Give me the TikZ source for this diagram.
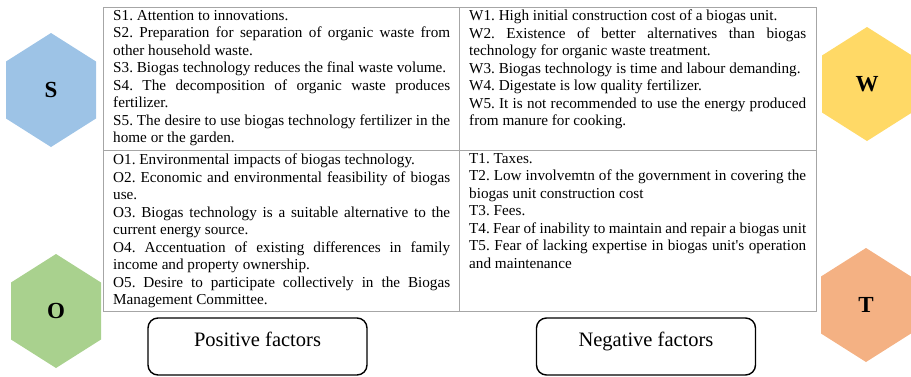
\documentclass[tikz,border=0pt]{standalone}
\usepackage{fontspec}
\setmainfont{Liberation Serif}
\usetikzlibrary{positioning}
\definecolor{hexS}{HTML}{9DC3E6}
\definecolor{hexW}{HTML}{FFD966}
\definecolor{hexO}{HTML}{A9D18E}
\definecolor{hexT}{HTML}{F4B183}
\setlength{\parindent}{0pt}
\hyphenpenalty=10000
\exhyphenpenalty=10000
\frenchspacing

\begin{document}
\begin{tikzpicture}[
    x=1pt, y=-1pt,
    hexa/.style={font=\bfseries\fontsize{23}{25}\selectfont},
    cell/.style={anchor=north west, inner sep=0pt, text width=337pt, align=justify, font=\fontsize{15.2}{17.5}\selectfont},
    factor/.style={draw, line width=1.4pt, rounded corners=10pt, minimum width=219pt, minimum height=57pt, text height=12pt, text depth=12pt, font=\fontsize{20.5}{24}\selectfont},
    grid/.style={draw=gray!70, line width=0.8pt}
]
\useasboundingbox (0,0) rectangle (911,376);

% hexagons
\foreach \n/\x/\y/\c in {S/51/90/hexS, W/867/84/hexW, O/56/311/hexO, T/866/305/hexT}{
    \fill[\c] (\x,\y) ++(0,-57) -- ++(45,28.5) -- ++(0,57) -- ++(-45,28.5) -- ++(-45,-28.5) -- ++(0,-57) -- cycle;
    \node[hexa] (\n) at (\x,\y) {\n};
}

% table
\draw[grid] (103,7) rectangle (816,311);
\draw[grid] (459,7) -- (459,311);
\draw[grid] (103,150) -- (816,150);

\node[cell] (strengths) at (113,10) {S1. Attention to innovations.\par
S2. Preparation for separation of organic waste from other household waste.\par
S3. Biogas technology reduces the final waste volume.\par
S4. The decomposition of organic waste produces fertilizer.\par
S5. The desire to use biogas technology fertilizer in the home or the garden.};

\node[cell] (weaknesses) at (469,10) {W1. High initial construction cost of a biogas unit.\par
W2. Existence of better alternatives than biogas technology for organic waste treatment.\par
W3. Biogas technology is time and labour demanding.\par
W4. Digestate is low quality fertilizer.\par
W5. It is not recommended to use the energy produced from manure for cooking.};

\node[cell] (opportunities) at (113,154) {O1. Environmental impacts of biogas technology.\par
O2. Economic and environmental feasibility of biogas use.\par
O3. Biogas technology is a suitable alternative to the current energy source.\par
O4. Accentuation of existing differences in family income and property ownership.\par
O5. Desire to participate collectively in the Biogas Management Committee.};

\node[cell] (threats) at (469,153) {T1. Taxes.\par
T2. Low involvemtn of the government in covering the biogas unit construction cost\par
T3. Fees.\par
T4. Fear of inability to maintain and repair a biogas unit\par
T5. Fear of lacking expertise in biogas unit\textquotesingle s operation and maintenance};

% factor boxes
\node[factor] (positive) at (257.5,346.5) {Positive factors};
\node[factor] (negative) at (646,346.5) {Negative factors};
\end{tikzpicture}
\end{document}
